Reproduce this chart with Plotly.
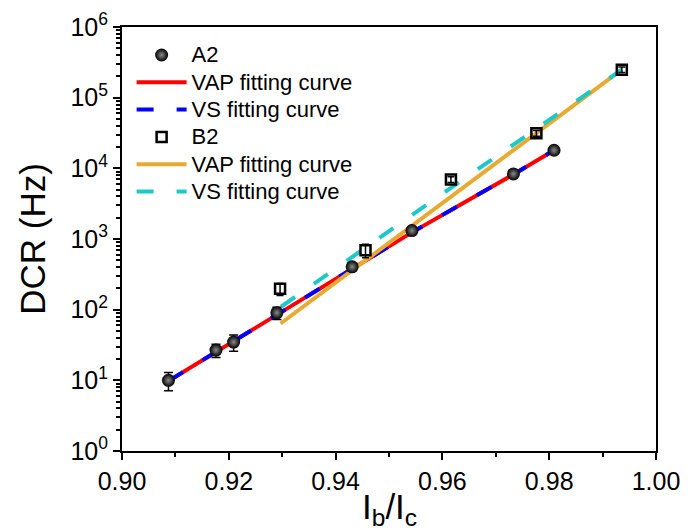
import plotly.graph_objects as go

# ---- data ----
a2_x = [0.9087, 0.9176, 0.9209, 0.9290, 0.9431, 0.9543, 0.9733, 0.9809]
a2_y = [10, 26.8, 34.8, 90.3, 404, 1316, 8340, 18040]
a2_err = [2.9, 5.7, 9.0, 18, 25, 60, 300, 600]

b2_x = [0.9296, 0.9456, 0.9616, 0.9776, 0.9936]
b2_y = [197, 695, 6930, 31400, 249000]
b2_err = [38, 150, 650, 3000, 22000]

a2_vap_x = [0.9087, 0.9290, 0.9430, 0.9543, 0.9733, 0.9809]
a2_vap_y = [9.8, 85.4, 378, 1242, 8200, 18000]
a2_vs_x = [0.9087, 0.9290, 0.9430, 0.9543, 0.9733, 0.9809]
a2_vs_y = [9.8, 85.4, 378, 1242, 8200, 18000]

b2_vap_x = [0.9297, 0.9776, 0.9936]
b2_vap_y = [63.7, 31400, 249000]
b2_vs_x = [0.9298, 0.9616, 0.9936]
b2_vs_y = [110, 5300, 249000]

x_tick_vals = [0.90, 0.92, 0.94, 0.96, 0.98, 1.00]
x_tick_text = ["0.90", "0.92", "0.94", "0.96", "0.98", "1.00"]
y_tick_vals = [1, 10, 100, 1000, 10000, 100000, 1000000]
y_tick_text = ["10<sup>0</sup>", "10<sup>1</sup>", "10<sup>2</sup>", "10<sup>3</sup>",
               "10<sup>4</sup>", "10<sup>5</sup>", "10<sup>6</sup>"]

legend_names = ["A2", "VAP fitting curve", "VS fitting curve",
                "B2", "VAP fitting curve", "VS fitting curve"]
x_title = "I<sub>b</sub>/I<sub>c</sub>"
y_title = "DCR (Hz)"

FONT = "Liberation Sans, Arial, sans-serif"


def lg(name):
    return '<span style="font-size:22px">' + name + '</span>'


fig = go.Figure()

# lines first (drawn below markers)
fig.add_trace(go.Scatter(x=a2_vap_x, y=a2_vap_y, mode="lines", name=lg(legend_names[1]),
                         line=dict(color="#ff0000", width=4), legendrank=2))
fig.add_trace(go.Scatter(x=a2_vs_x, y=a2_vs_y, mode="lines", name=lg(legend_names[2]),
                         line=dict(color="#0000ff", width=4, dash="17px,23px"), legendrank=3))
fig.add_trace(go.Scatter(x=b2_vap_x, y=b2_vap_y, mode="lines", name=lg(legend_names[4]),
                         line=dict(color="#e8aa30", width=4), legendrank=5))
fig.add_trace(go.Scatter(x=b2_vs_x, y=b2_vs_y, mode="lines", name=lg(legend_names[5]),
                         line=dict(color="#1ec8c8", width=4, dash="17px,23px"), legendrank=6))

# markers
fig.add_trace(go.Scatter(
    x=a2_x, y=a2_y, mode="markers", name=lg(legend_names[0]), legendrank=1,
    marker=dict(symbol="circle", size=13, color="black",
                gradient=dict(type="radial", color="#8a8a8a"),
                line=dict(width=0)),
    error_y=dict(type="data", array=a2_err, visible=True, color="black",
                 thickness=1.5, width=4.5)))
fig.add_trace(go.Scatter(
    x=b2_x, y=b2_y, mode="markers", name=lg(legend_names[3]), legendrank=4,
    marker=dict(symbol="square-open", size=10, color="black",
                line=dict(width=2.5, color="black")),
    error_y=dict(type="data", array=b2_err, visible=True, color="black",
                 thickness=1.5, width=3.5)))

fig.update_layout(
    width=697, height=530,
    margin=dict(l=114, r=49, t=19, b=87),
    paper_bgcolor="white", plot_bgcolor="white",
    font=dict(family=FONT, color="black"),
    showlegend=True,
    legend=dict(x=0.018, y=0.978, xanchor="left", yanchor="top",
                bgcolor="rgba(0,0,0,0)", font=dict(size=18.7, family=FONT),
                itemwidth=50, tracegroupgap=0, borderwidth=0),
    annotations=[dict(text=x_title, xref="paper", yref="paper", x=0.5, y=-0.136,
                      xanchor="center", yanchor="middle", showarrow=False,
                      font=dict(size=35, family=FONT, color="black"))],
)

fig.update_xaxes(
    range=[0.9, 1.0], tickvals=x_tick_vals, ticktext=x_tick_text,
    showline=True, linecolor="black", linewidth=2, mirror=True,
    ticks="outside", ticklen=7, tickwidth=2, tickcolor="black",
    minor=dict(ticks="outside", ticklen=4, tickwidth=2, tickcolor="black", dtick=0.01),
    showgrid=False, zeroline=False, automargin=False,
    tickfont=dict(size=25, family=FONT),
)
fig.update_yaxes(
    type="log", range=[0, 6], tickvals=y_tick_vals, ticktext=y_tick_text,
    showline=True, linecolor="black", linewidth=2, mirror=True,
    ticks="outside", ticklen=7, tickwidth=2, tickcolor="black",
    minor=dict(ticks="outside", ticklen=4, tickwidth=1.5, tickcolor="black", dtick="D1"),
    showgrid=False, zeroline=False, automargin=False,
    tickfont=dict(size=25, family=FONT),
    title=dict(text=y_title, font=dict(size=35, family=FONT), standoff=14),
)

fig.write_html("out.html")
